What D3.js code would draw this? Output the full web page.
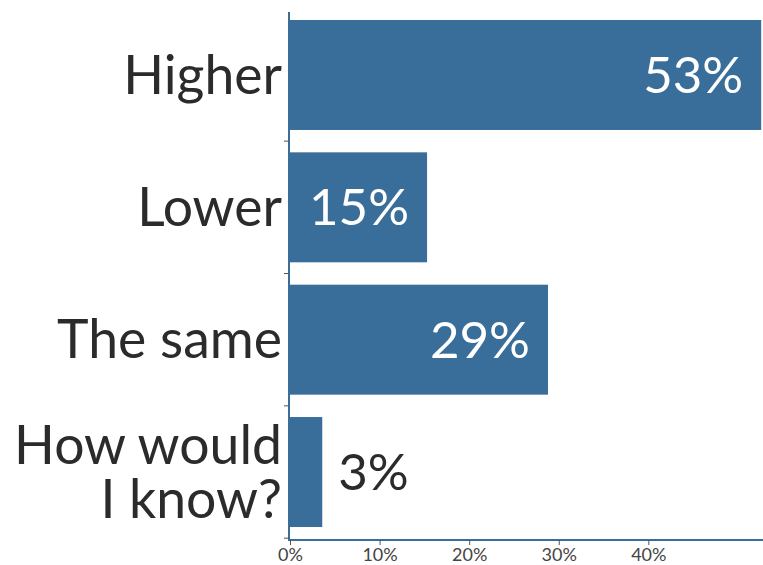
<!DOCTYPE html>
<html>
<head>
<meta charset="utf-8">
<script src="https://cdn.jsdelivr.net/npm/d3@7"></script>
<style>
  html, body { margin: 0; padding: 0; background: #fff; }
  svg { display: block; }
</style>
</head>
<body>
<svg id="chart" width="763" height="565"></svg>
<script>
const categories = [["Higher"], ["Lower"], ["The same"], ["How would", "I know?"]];
const categoryKeys = ["Higher", "Lower", "The same", "How would I know?"];
const values = [52.6, 15.3, 28.8, 3.6];
const valueLabels = ["53%", "15%", "29%", "3%"];
const xTicks = [0, 10, 20, 30, 40];

const W = 763, H = 565;
const barColor = "#3a6e9a";
const font = "Lato, 'Noto Sans', sans-serif";

const svg = d3.select("#chart");

const x = d3.scaleLinear().domain([0, 52.8]).range([290, 763]);
const y = d3.scaleBand().domain(categoryKeys).range([8.8, 538.2])
  .paddingInner(0.169).paddingOuter(0.0845);

// bars
svg.append("g").selectAll("rect").data(values).join("rect")
  .attr("x", x(0))
  .attr("y", (d, i) => y(categoryKeys[i]))
  .attr("width", d => x(d) - x(0))
  .attr("height", y.bandwidth())
  .attr("fill", barColor);

// value labels
svg.append("g").selectAll("text").data(values).join("text")
  .attr("x", d => (x(d) - x(0) > 60) ? x(d) - 18 : x(d) + 16)
  .attr("y", (d, i) => y(categoryKeys[i]) + y.bandwidth() / 2)
  .attr("dy", "0.35em")
  .attr("text-anchor", d => (x(d) - x(0) > 60) ? "end" : "start")
  .attr("fill", d => (x(d) - x(0) > 60) ? "#ffffff" : "#2b2b2b")
  .style("font-family", font)
  .style("font-size", "51px")
  .text((d, i) => valueLabels[i]);

// category labels
const catG = svg.append("g");
categories.forEach((lines, i) => {
  const cy = y(categoryKeys[i]) + y.bandwidth() / 2;
  const lh = 54;
  const t = catG.append("text")
    .attr("text-anchor", "end")
    .attr("fill", "#2b2b2b")
    .style("font-family", font)
    .style("font-size", "53.5px");
  lines.forEach((ln, j) => {
    t.append("tspan")
      .attr("x", 282)
      .attr("y", cy + (j - (lines.length - 1) / 2) * lh)
      .attr("dy", "0.35em")
      .text(ln);
  });
});

// y axis line and ticks at band boundaries
const axisColor = "#3a6e9a";
svg.append("line")
  .attr("x1", 289).attr("x2", 289)
  .attr("y1", 12).attr("y2", 541)
  .attr("stroke", axisColor).attr("stroke-width", 2);
const boundaries = categoryKeys.map(k => y(k) + y.bandwidth() + y.step() * y.paddingInner() / 2);
svg.append("g").selectAll("line").data(boundaries).join("line")
  .attr("x1", 284).attr("x2", 289)
  .attr("y1", d => d).attr("y2", d => d)
  .attr("stroke", "#555").attr("stroke-width", 1);

// x axis
const xAxis = svg.append("g").attr("transform", "translate(0,540)")
  .call(d3.axisBottom(x).tickValues(xTicks).tickFormat(d => d + "%").tickSize(5).tickSizeOuter(0));
xAxis.select(".domain").attr("stroke", axisColor).attr("stroke-width", 2)
  .attr("d", `M289,0H763`);
xAxis.selectAll(".tick line").attr("stroke", "#555");
xAxis.selectAll(".tick text")
  .attr("fill", "#444")
  .attr("dy", "0.72em")
  .style("font-family", font)
  .style("font-size", "18px");
</script>
</body>
</html>
